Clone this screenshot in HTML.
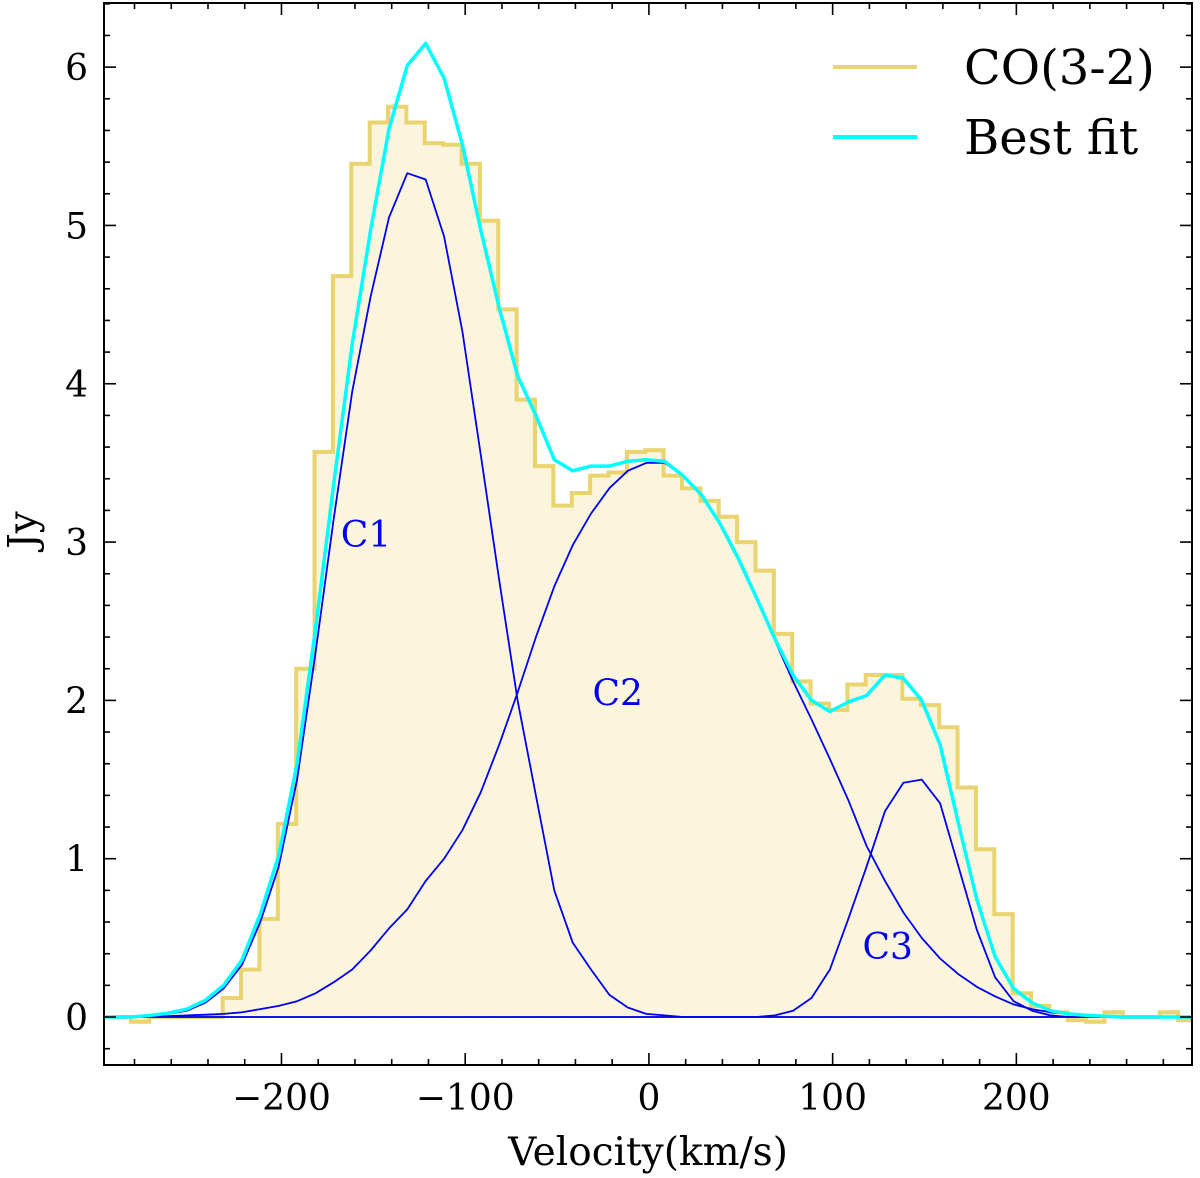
<!DOCTYPE html>
<html><head><meta charset="utf-8"><style>
html,body{margin:0;padding:0;background:#fff;}
svg{display:block;font-family:"DejaVu Serif","Liberation Serif",serif;}
</style></head><body>
<svg id="chart" width="1200" height="1178" viewBox="0 0 1200 1178" xmlns="http://www.w3.org/2000/svg">
<g id="plot"></g>
</svg>
<script>
// Histogram bin left edges (km/s) and values (Jy)
const binEdges = [-292,-282,-272,-262,-252,-242,-232,-222,-212,-202,-192,-182,-172,-162,-152,-142,-132,-122,-112,-102,-92,-82,-72,-62,-52,-42,-32,-22,-12,-2,8,18,28,38,48,58,68,78,88,98,108,118,128,138,148,158,168,178,188,198,208,218,228,238,248,258,268,278,288];
const binValues = [0.0,-0.03,0.0,0.0,0.0,0.0,0.12,0.3,0.62,1.22,2.2,3.57,4.68,5.39,5.65,5.75,5.65,5.52,5.51,5.39,5.03,4.47,3.9,3.48,3.23,3.31,3.42,3.44,3.57,3.58,3.42,3.34,3.26,3.16,3.0,2.82,2.42,2.12,1.98,1.94,2.1,2.16,2.16,2.01,1.97,1.83,1.45,1.06,0.65,0.15,0.07,0.03,-0.02,-0.03,0.03,0.0,0.0,0.03,-0.02];
// Model sample velocities
const fitV = [-301.5,-291.5,-281.5,-271.5,-261.5,-251.5,-241.5,-231.5,-221.5,-211.5,-201.5,-191.5,-181.5,-171.5,-161.5,-151.5,-141.5,-131.5,-121.5,-111.5,-101.5,-91.5,-81.5,-71.5,-61.5,-51.5,-41.5,-31.5,-21.5,-11.5,-1.5,8.5,18.5,28.5,38.5,48.5,58.5,68.5,78.5,88.5,98.5,108.5,118.5,128.5,138.5,148.5,158.5,168.5,178.5,188.5,198.5,208.5,218.5,228.5,238.5,248.5,258.5,268.5,278.5,288.5,298.5];
const c1 = [0,0,0,0.01,0.02,0.04,0.09,0.18,0.33,0.6,0.95,1.5,2.3,3.15,3.95,4.55,5.05,5.33,5.29,4.93,4.33,3.55,2.76,2.0,1.4,0.8,0.47,0.3,0.14,0.06,0.02,0.01,0,0,0,0,0,0,0,0,0,0,0,0,0,0,0,0,0,0,0,0,0,0,0,0,0,0,0,0,0];
const c2 = [0,0,0,0,0.005,0.01,0.015,0.02,0.03,0.05,0.07,0.1,0.15,0.22,0.3,0.42,0.56,0.68,0.86,1.0,1.18,1.42,1.72,2.05,2.4,2.72,2.98,3.18,3.34,3.45,3.5,3.5,3.42,3.3,3.12,2.9,2.65,2.38,2.12,1.88,1.63,1.37,1.08,0.86,0.66,0.5,0.37,0.27,0.19,0.13,0.08,0.05,0.03,0.02,0.01,0.005,0,0,0,0,0];
const c3 = [0,0,0,0,0,0,0,0,0,0,0,0,0,0,0,0,0,0,0,0,0,0,0,0,0,0,0,0,0,0,0,0,0,0,0,0,0,0.01,0.04,0.12,0.3,0.62,0.95,1.3,1.48,1.5,1.35,0.95,0.55,0.25,0.1,0.04,0.01,0,0,0,0,0,0,0,0];
const xTicks = [-200,-100,0,100,200];
const yTicks = [0,1,2,3,4,5,6];

const L=104,R=1192,T=3,B=1065;
const xmin=-296.6,xmax=295.6,ymin=-0.303,ymax=6.405;
const X=v=>L+(v-xmin)/(xmax-xmin)*(R-L);
const Y=v=>B-(v-ymin)/(ymax-ymin)*(B-T);
const NS="http://www.w3.org/2000/svg";
const svg=document.getElementById('chart');
const plot=document.getElementById('plot');
function mk(tag,attrs,parent){const e=document.createElementNS(NS,tag);for(const k in attrs)e.setAttribute(k,attrs[k]);(parent||svg).appendChild(e);return e;}

const defs=mk('defs',{});
const cp=mk('clipPath',{id:'clip'},defs);
mk('rect',{x:L,y:T,width:R-L,height:B-T},cp);
plot.setAttribute('clip-path','url(#clip)');

let d=`M${X(binEdges[0])},${Y(0)}`;
for(let i=0;i<binEdges.length;i++){
  const x0=X(binEdges[i]),x1=X(binEdges[i]+10),y=Y(binValues[i]);
  d+=` L${x0},${y} L${x1},${y}`;
}
let dFill=d+` L${X(binEdges[binEdges.length-1]+10)},${Y(0)} Z`;
const hf=mk('path',{d:dFill,fill:'#fbf5dd',stroke:'none'},plot);


let dLine=`M${X(binEdges[0])},${Y(binValues[0])}`;
for(let i=0;i<binEdges.length;i++){
  const x0=X(binEdges[i]),x1=X(binEdges[i]+10),y=Y(binValues[i]);
  dLine+=` L${x0},${y} L${x1},${y}`;
}
const hl=mk('path',{d:dLine,fill:'none',stroke:'#e9d46f','stroke-width':4},plot);



const zl=mk('line',{x1:L,x2:R,y1:Y(0),y2:Y(0),stroke:'#0000ee','stroke-width':1.5,'stroke-dasharray':'2,1'},plot);



function poly(arr){return fitV.map((v,i)=>`${X(v).toFixed(1)},${Y(arr[i]).toFixed(1)}`).join(' ');}
[['component-c1',c1],['component-c2',c2],['component-c3',c3]].forEach(([n,a])=>{
  const p=mk('polyline',{points:poly(a),fill:'none',stroke:'#0000ee','stroke-width':1.8,'stroke-linejoin':'round'},plot);
  
  
});
const fit=c1.map((v,i)=>v+c2[i]+c3[i]);
const fp=mk('polyline',{points:poly(fit),fill:'none',stroke:'#00ffff','stroke-width':3.5,'stroke-linejoin':'round'},plot);



[['C1',-154,3.05],['C2',-17,2.05],['C3',130,0.45]].forEach(([t,v,y])=>{
  const e=mk('text',{x:X(v),y:Y(y)+13,'text-anchor':'middle','font-size':36,fill:'#0000ee'});
  e.textContent=t;
  
  
});

const fr=mk('rect',{x:L,y:T,width:R-L,height:B-T,fill:'none',stroke:'#000','stroke-width':2});



const tg=mk('g',{stroke:'#000','stroke-width':1.6});


for(let v=-280;v<=280;v+=20){
  const major=(v%100===0);const len=major?12:6;
  mk('line',{x1:X(v),x2:X(v),y1:B,y2:B-len},tg);
  mk('line',{x1:X(v),x2:X(v),y1:T,y2:T+len},tg);
}
for(let k=-1;k<=32;k++){
  const v=k*0.2;if(v<ymin||v>ymax)continue;
  const major=(k%5===0);const len=major?12:6;
  mk('line',{x1:L,x2:L+len,y1:Y(v),y2:Y(v)},tg);
  mk('line',{x1:R,x2:R-len,y1:Y(v),y2:Y(v)},tg);
}
xTicks.forEach(v=>{
  const e=mk('text',{x:X(v),y:1110,'text-anchor':'middle','font-size':36,fill:'#000'});
  e.textContent=(v<0?'\u2212':'')+Math.abs(v);
  
  
});
yTicks.forEach(v=>{
  const e=mk('text',{x:88,y:Y(v)+13,'text-anchor':'end','font-size':36,fill:'#000'});
  e.textContent=v;
  
  
});
const xt=mk('text',{x:648,y:1165,'text-anchor':'middle','font-size':39,fill:'#000'});
xt.textContent='Velocity(km/s)';


const yt=mk('text',{x:36,y:530,'text-anchor':'middle','font-size':39,fill:'#000',transform:'rotate(-90 36 530)'});
yt.textContent='Jy';



[['CO(3-2)','#e9d46f',67],['Best fit','#00ffff',137]].forEach(([t,c,y])=>{
  const g=mk('g',{});
  
  
  mk('line',{x1:833,x2:917,y1:y,y2:y,stroke:c,'stroke-width':4},g);
  const e=mk('text',{x:964,y:y+17,'font-size':48,fill:'#000'},g);
  e.textContent=t;
});
</script>
</body></html>
